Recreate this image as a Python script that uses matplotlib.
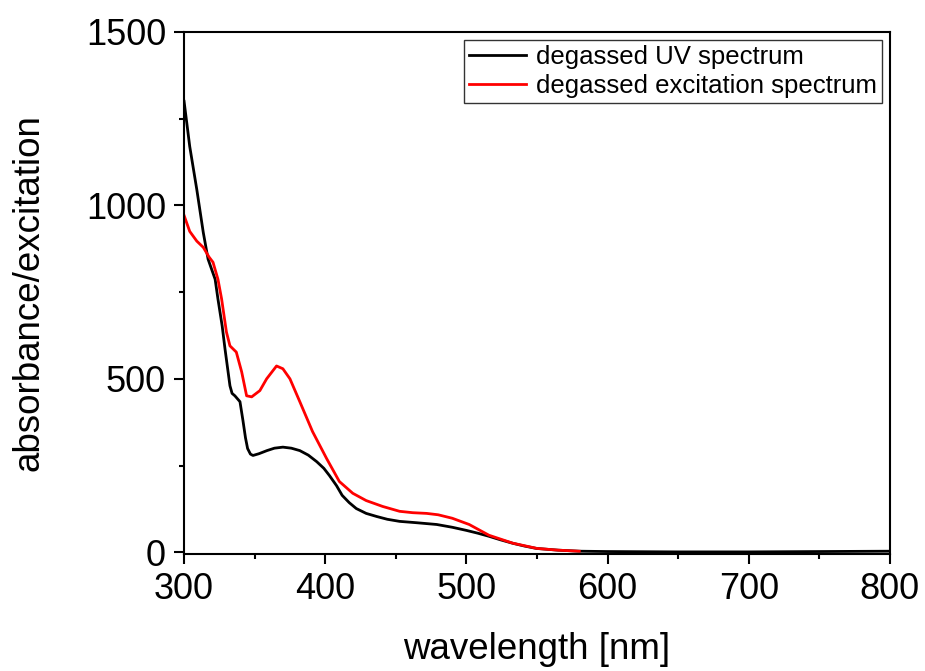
import matplotlib.pyplot as plt
from matplotlib.ticker import MultipleLocator

plt.rcParams["font.family"] = ["Liberation Sans", "DejaVu Sans"]

# degassed UV spectrum
uv_wl = [300, 304, 309, 313.6, 317, 322, 324, 327, 329, 332.5, 334, 336, 339.6, 341.7, 343.5,
         345, 347, 348.8, 353, 358.7, 364, 370, 376, 382, 388, 394, 399, 403, 408, 412, 417,
         422, 429, 436.5, 444, 452.7, 465, 479, 490, 500, 508, 516, 524, 532.7,
         541, 549.6, 565, 580, 600, 650, 700, 750, 800]
uv_val = [1300, 1170, 1046, 922, 845, 787, 730, 652, 586, 480, 458, 451, 434, 380, 330,
          299, 283, 279, 284, 293, 300, 303, 300, 293, 280, 261, 242, 221, 192, 164, 143,
          126, 112, 103, 95, 89, 85, 80, 72, 63, 55, 46, 36, 26,
          18, 11, 6, 3, 2, 1, 1, 2, 3]

# degassed excitation spectrum
ex_wl = [300, 304, 309, 313.6, 317.7, 320.5, 324, 326.6, 330, 332.5, 337, 340.8, 344.3,
         347.9, 353.7, 358.5, 365.5, 370, 375, 382, 391, 401, 410, 419.5, 429, 440.7,
         452.7, 462, 471.8, 480, 490, 502, 516, 533, 550, 565, 580]
ex_val = [971, 925, 897, 879, 851, 836, 787, 730, 635, 595, 577, 520, 451,
          448, 466, 500, 537, 529, 500, 434, 348, 270, 204, 170, 149, 132,
          118, 114, 112, 108, 98, 80, 49, 26, 11, 6, 3]

fig = plt.figure(figsize=(9.25, 6.71), dpi=100)
ax = fig.add_axes([0.199, 0.1744, 0.763, 0.778])

ax.plot(uv_wl, uv_val, color="black", lw=2, label="degassed UV spectrum")
ax.plot(ex_wl, ex_val, color="red", lw=2, label="degassed excitation spectrum")

ax.set_xlim(300, 800)
ax.set_ylim(-5, 1500)
ax.xaxis.set_major_locator(MultipleLocator(100))
ax.xaxis.set_minor_locator(MultipleLocator(50))
ax.yaxis.set_major_locator(MultipleLocator(500))
ax.yaxis.set_minor_locator(MultipleLocator(250))
ax.tick_params(which="major", direction="out", length=7, width=1.5, labelsize=26, pad=6)
ax.tick_params(which="minor", direction="out", length=3.5, width=1.5)
for s in ax.spines.values():
    s.set_linewidth(1.5)

ax.set_xlabel("wavelength [nm]", fontsize=26.5, labelpad=18)
ax.set_ylabel("absorbance/excitation", fontsize=26.5, labelpad=28)

leg = ax.legend(loc="upper right", fontsize=18.5, frameon=True, fancybox=False,
                edgecolor="black", handlelength=2.2, handletextpad=0.4,
                borderpad=0.2, labelspacing=0.2, borderaxespad=0.3)
leg.get_frame().set_linewidth(1.0)

fig.savefig("out.png", dpi=100)
